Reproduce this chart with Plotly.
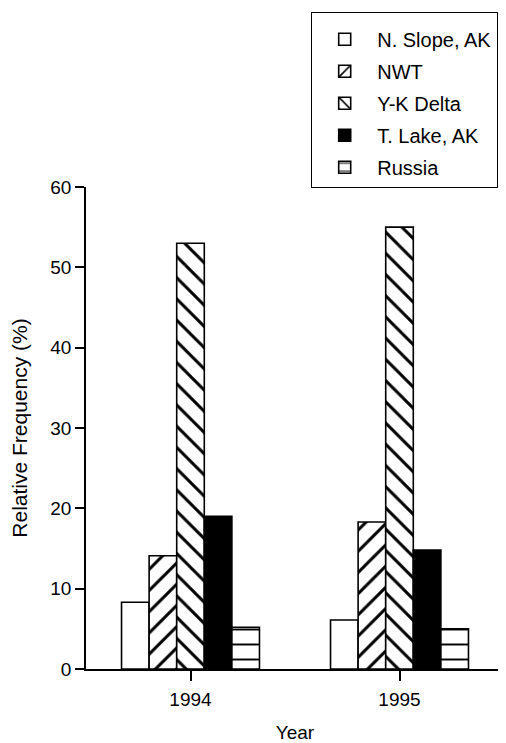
import plotly.graph_objects as go

years = ["1994", "1995"]
series_names = ["N. Slope, AK", "NWT", "Y-K Delta", "T. Lake, AK", "Russia"]
n_slope = [8.3, 6.1]
nwt = [14.1, 18.3]
yk_delta = [53.0, 55.0]
t_lake = [19.0, 14.8]
russia = [5.2, 5.0]
y_ticks = [0, 10, 20, 30, 40, 50, 60]

values = [n_slope, nwt, yk_delta, t_lake, russia]
styles = [
    dict(color="white", pattern=None),
    dict(color="white", pattern=dict(shape="/", fgcolor="black", bgcolor="white", fgopacity=1, size=15, solidity=0.2)),
    dict(color="white", pattern=dict(shape="\\", fgcolor="black", bgcolor="white", fgopacity=1, size=15, solidity=0.2)),
    dict(color="black", pattern=None),
    dict(color="white", pattern=dict(shape="-", fgcolor="black", bgcolor="white", fgopacity=1, size=15, solidity=0.13)),
]

fig = go.Figure()
for i, (name, vals, st) in enumerate(zip(series_names, values, styles)):
    marker = dict(color=st["color"], line=dict(color="black", width=1.6))
    if st["pattern"] is not None:
        marker["pattern"] = st["pattern"]
    fig.add_trace(go.Bar(x=years, y=vals, name=name, marker=marker, legendgroup=str(i)))

# page has an 8px body margin, so the figure is sized/offset to compensate
W, H = 498, 735
font_family = "Liberation Sans, Arial, sans-serif"
fig.update_layout(
    width=W, height=H,
    margin=dict(l=78, r=2, t=179, b=74, autoexpand=False),
    paper_bgcolor="white", plot_bgcolor="white",
    barmode="group", bargap=0.34, bargroupgap=0,
    font=dict(family=font_family, size=19, color="black"),
    showlegend=True,
    legend=dict(
        x=(303 - 78) / 418, xanchor="left", xref="paper",
        y=1 - 4 / H, yanchor="top", yref="container",
        bordercolor="black", borderwidth=1.2, bgcolor="white",
        font=dict(size=20, family=font_family),
        title=dict(text=" ", font=dict(size=5)),
        tracegroupgap=3,
        itemwidth=55,
        traceorder="grouped",
    ),
)
fig.update_xaxes(
    type="category", range=[-0.5, 1.5], automargin=False,
    showline=True, linecolor="black", linewidth=1.6,
    ticks="outside", ticklen=10, tickwidth=1.6, tickcolor="black",
    showgrid=False, zeroline=False,
    title=dict(text="Year", standoff=20, font=dict(size=19)),
    tickfont=dict(size=19), ticklabelstandoff=2,
)
fig.update_yaxes(
    range=[0, 60], tickvals=y_ticks, automargin=False,
    showline=True, linecolor="black", linewidth=1.6,
    ticks="outside", ticklen=9, tickwidth=1.6, tickcolor="black",
    showgrid=False, zeroline=False,
    title=dict(text="Relative Frequency (%)", standoff=20, font=dict(size=21)),
    tickfont=dict(size=19),
)

fig.write_html("out.html")
